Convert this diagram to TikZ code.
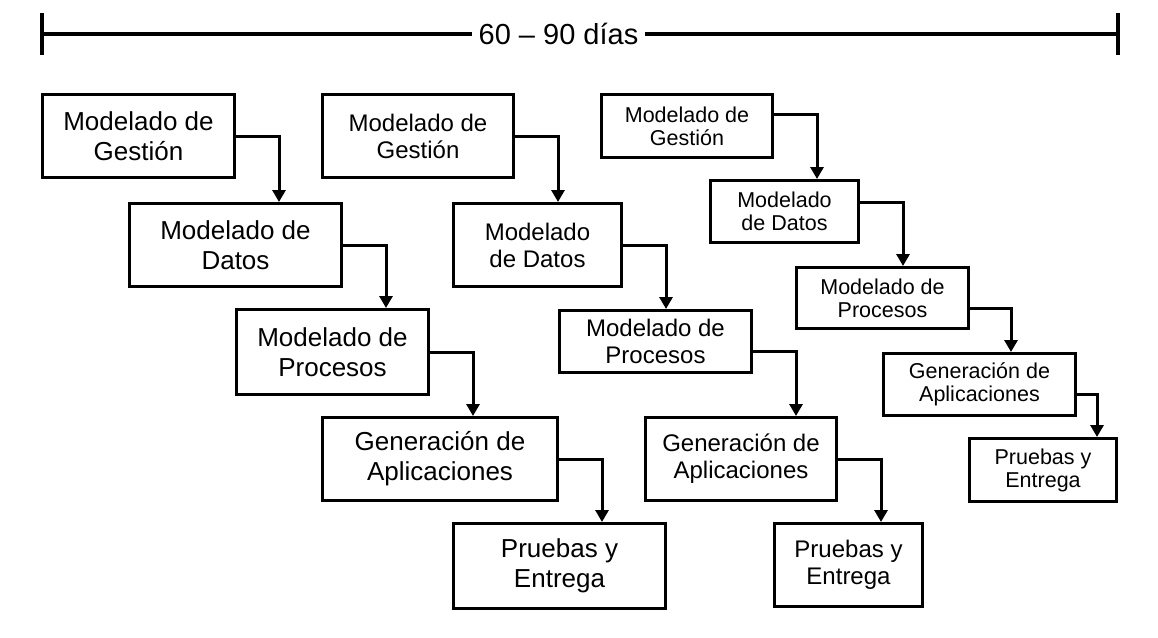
\documentclass[tikz,border=0pt]{standalone}
\usepackage{fontspec}
\setmainfont{Liberation Sans}
\usetikzlibrary{arrows.meta}

\begin{document}
\begin{tikzpicture}[x=1pt,y=-1pt,
  every node/.style={inner sep=0pt},
  stage/.style={draw,line width=3pt,rectangle,align=center},
  bigstage/.style={stage,font=\fontsize{26}{30}\selectfont},
  midstage/.style={stage,font=\fontsize{24}{27}\selectfont},
  smallstage/.style={stage,font=\fontsize{21.5}{23}\selectfont},
  flow/.style={line width=3pt,-{Triangle[width=13pt,length=12pt]}}]
\useasboundingbox (0,0) rectangle (1158,637);
\coordinate (t0) at (42,34);
\coordinate (t1) at (1118,34);
\node [inner xsep=6pt,font=\fontsize{29}{33}\selectfont] (span) at (558.5,34) {60 – 90 días};
\draw [line width=4pt] (t0) -- (span.west);
\draw [line width=4pt] (span.east) -- (t1);
\draw [line width=4pt] ([yshift=21pt]t0) -- ([yshift=-21pt]t0);
\draw [line width=4pt] ([yshift=21pt]t1) -- ([yshift=-21pt]t1);
\node [bigstage,minimum width=192pt,minimum height=83pt] (a1) at (138.5,136) {Modelado de\\Gestión};
\node [bigstage,minimum width=212pt,minimum height=83pt] (a2) at (235.5,245) {Modelado de\\Datos};
\node [bigstage,minimum width=192pt,minimum height=85pt] (a3) at (332.5,352) {Modelado de\\Procesos};
\node [bigstage,minimum width=235pt,minimum height=83pt] (a4) at (440,459) {Generación de\\Aplicaciones};
\node [bigstage,minimum width=212pt,minimum height=85pt] (a5) at (559.5,566) {Pruebas y\\Entrega};
\node [midstage,minimum width=191pt,minimum height=83pt] (b1) at (418,136) {Modelado de\\Gestión};
\node [midstage,minimum width=168pt,minimum height=83pt] (b2) at (537.5,245) {Modelado\\de Datos};
\node [midstage,minimum width=192pt,minimum height=62pt] (b3) at (655.5,341.5) {Modelado de\\Procesos};
\node [midstage,minimum width=191pt,minimum height=83pt] (b4) at (741,459) {Generación de\\Aplicaciones};
\node [midstage,minimum width=148pt,minimum height=83pt] (b5) at (848.5,565) {Pruebas y\\Entrega};
\node [smallstage,minimum width=171pt,minimum height=63pt] (c1) at (687,126) {Modelado de\\Gestión};
\node [smallstage,minimum width=148pt,minimum height=62pt] (c2) at (784.5,211.5) {Modelado\\de Datos};
\node [smallstage,minimum width=172pt,minimum height=61pt] (c3) at (882.5,298) {Modelado de\\Procesos};
\node [smallstage,minimum width=192pt,minimum height=62pt] (c4) at (979.5,384.5) {Generación de\\Aplicaciones};
\node [smallstage,minimum width=147pt,minimum height=63pt] (c5) at (1043,470) {Pruebas y\\Entrega};
\draw [flow] (a1.east) -| ([xshift=43pt]a1.east |- a2.north);
\draw [flow] (a2.east) -| ([xshift=43pt]a2.east |- a3.north);
\draw [flow] (a3.east) -| ([xshift=43pt]a3.east |- a4.north);
\draw [flow] (a4.east) -| ([xshift=43pt]a4.east |- a5.north);
\draw [flow] (b1.east) -| ([xshift=43pt]b1.east |- b2.north);
\draw [flow] (b2.east) -| ([xshift=43pt]b2.east |- b3.north);
\draw [flow] ([yshift=-10pt]b3.east) -| ([xshift=43pt]b3.east |- b4.north);
\draw [flow] (b4.east) -| ([xshift=43pt]b4.east |- b5.north);
\draw [flow] ([yshift=12pt]c1.east) -| ([xshift=43pt]c1.east |- c2.north);
\draw [flow] ([yshift=9.5pt]c2.east) -| ([xshift=43pt]c2.east |- c3.north);
\draw [flow] ([yshift=-10pt]c3.east) -| ([xshift=41pt]c3.east |- c4.north);
\draw [flow] ([yshift=-9.5pt]c4.east) -| ([xshift=20pt]c4.east |- c5.north);
\end{tikzpicture}
\end{document}
